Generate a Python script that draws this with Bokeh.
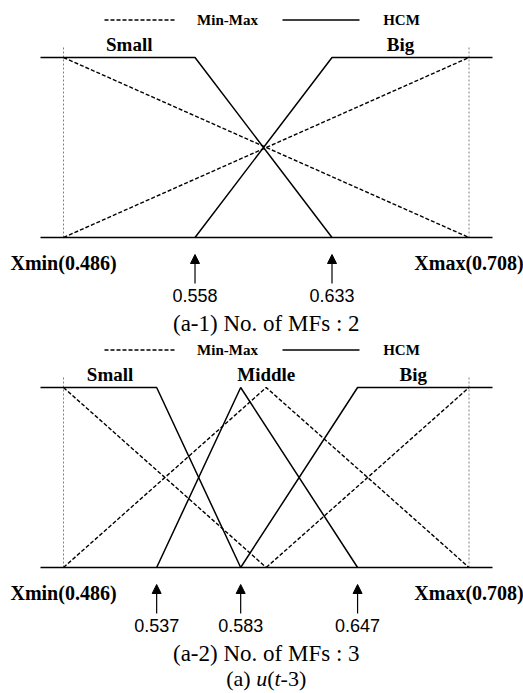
from bokeh.plotting import figure
from bokeh.models import Range1d, ColumnDataSource, Arrow, NormalHead
from bokeh.layouts import column
from bokeh.embed import file_html
from bokeh.resources import INLINE
from bokeh.core.properties import value

# ---------------- data ----------------
X_MIN = 0.486
X_MAX = 0.708

MF2_NAMES = ["Small", "Big"]
HCM2_CENTERS = [0.558, 0.633]
MM2_CENTERS = [0.486, 0.708]

MF3_NAMES = ["Small", "Middle", "Big"]
HCM3_CENTERS = [0.537, 0.583, 0.647]
MM3_CENTERS = [0.486, 0.597, 0.708]

LEGEND_LABELS = ["Min-Max", "HCM"]
CAPTION1 = "(a-1) No. of MFs : 2"
CAPTION2 = "(a-2) No. of MFs : 3"

# ---------------- layout helpers ----------------
W = 523
PXU = 405.5 / (X_MAX - X_MIN)   # screen px per data unit (x)
X0 = X_MIN - 63 / PXU            # left edge of the x range
PYU = 180.0                      # screen px per membership unit (y)
L_END = X0 + 40 / PXU            # baseline ends
R_END = X0 + 492 / PXU

SERIF = value("Liberation Serif")
SANS = value("Liberation Sans")


def sx(px):
    """screen x -> data x"""
    return X0 + px / PXU


def dy(px_below_baseline):
    return -px_below_baseline / PYU


def make_fig(height, top_px, base_px):
    p = figure(width=W, height=height,
               x_range=Range1d(X0, X0 + W / PXU),
               y_range=Range1d(-(height - base_px) / PYU, 1 + top_px / PYU),
               output_backend="svg", toolbar_location=None,
               x_axis_location=None, y_axis_location=None, min_border=0)
    p.grid.visible = False
    p.outline_line_color = None
    p.background_fill_color = "white"
    p.border_fill_color = "white"
    return p


def hcm_mfs(c):
    n = len(c)
    out = []
    for k in range(n):
        if k == 0:
            out.append(([L_END, c[0], c[1]], [1, 1, 0]))
        elif k == n - 1:
            out.append(([c[k - 1], c[k], R_END], [0, 1, 1]))
        else:
            out.append(([c[k - 1], c[k], c[k + 1]], [0, 1, 0]))
    return out


def mm_mfs(c):
    n = len(c)
    out = []
    for k in range(n):
        if k == 0:
            out.append(([c[0], c[1]], [1, 0]))
        elif k == n - 1:
            out.append(([c[k - 1], c[k]], [0, 1]))
        else:
            out.append(([c[k - 1], c[k], c[k + 1]], [0, 1, 0]))
    return out


def panel(height, top_px, base_px, names, hcm_c, mm_c, caption):
    p = make_fig(height, top_px, base_px)
    # legend row
    ly = 1 + 37.5 / PYU
    p.segment(x0=[sx(104)], y0=[ly], x1=[sx(175)], y1=[ly],
              line_color="black", line_width=1.4, line_dash="4 2")
    p.segment(x0=[sx(282)], y0=[ly], x1=[sx(359)], y1=[ly],
              line_color="black", line_width=1.4)
    p.text(x=[sx(227), sx(401)], y=[ly, ly], text=LEGEND_LABELS,
           text_font=SERIF, text_font_style="bold", text_font_size="15px",
           text_align="center", text_baseline="middle", text_color="black")

    # Xmin / Xmax guides
    p.segment(x0=[X_MIN, X_MAX], y0=[0, 0], x1=[X_MIN, X_MAX], y1=[1 + 10 / PYU] * 2,
              line_color="#808080", line_width=1, line_dash="2 2")
    # baseline
    p.segment(x0=[L_END], y0=[0], x1=[R_END], y1=[0], line_color="black", line_width=1.5)

    # Min-Max (dashed)
    for xs, ys in mm_mfs(mm_c):
        p.line(xs, ys, line_color="black", line_width=1.4, line_dash="4 2")
    # HCM (solid)
    for xs, ys in hcm_mfs(hcm_c):
        p.line(xs, ys, line_color="black", line_width=1.5)

    # MF names
    n = len(names)
    name_x = []
    for k in range(n):
        if k == 0:
            name_x.append((X_MIN + hcm_c[0]) / 2)
        elif k == n - 1:
            name_x.append((hcm_c[-1] + X_MAX) / 2)
        else:
            name_x.append(mm_c[k])
    name_y = 1 + 13.5 / PYU
    p.text(x=name_x, y=[name_y] * n, text=names,
           text_font=SERIF, text_font_style="bold", text_font_size="19px",
           text_align="center", text_baseline="middle", text_color="black")

    # Xmin / Xmax labels
    p.text(x=[X_MIN, X_MAX], y=[dy(25)] * 2,
           text=[f"Xmin({X_MIN:.3f})", f"Xmax({X_MAX:.3f})"],
           text_font=SERIF, text_font_style="bold", text_font_size="20px",
           text_align="center", text_baseline="middle", text_color="black")

    # arrows + values
    src = ColumnDataSource(dict(x=hcm_c, y0=[dy(46)] * len(hcm_c), y1=[dy(17)] * len(hcm_c)))
    p.add_layout(Arrow(end=NormalHead(size=9, fill_color="black", line_color="black", line_width=1),
                       x_start="x", y_start="y0", x_end="x", y_end="y1",
                       source=src, line_color="black", line_width=1.2))
    p.text(x=hcm_c, y=[dy(58)] * len(hcm_c), text=[f"{v:.3f}" for v in hcm_c],
           text_font=SANS, text_font_size="18px",
           text_align="center", text_baseline="middle", text_color="black")

    # caption
    p.text(x=[(X_MIN + X_MAX) / 2], y=[dy(86)], text=[caption],
           text_font=SERIF, text_font_size="23px",
           text_align="center", text_baseline="middle", text_color="black")
    return p


p1 = panel(338, 57, 237, MF2_NAMES, HCM2_CENTERS, MM2_CENTERS, CAPTION1)
p2 = panel(355, 49, 229, MF3_NAMES, HCM3_CENTERS, MM3_CENTERS, CAPTION2)

# final caption "(a) u(t-3)" with italic u and t
FS = 22
pieces = [("(a) ", "normal", 1.36), ("u", "italic", 0.5), ("(", "normal", 0.333),
          ("t", "italic", 0.278), ("-3)", "normal", 1.166)]
total = sum(w for _, _, w in pieces) * FS
xc_px = ((X_MIN + X_MAX) / 2 - X0) * PXU
cur = xc_px - total / 2
for txt, style, w in pieces:
    p2.text(x=[sx(cur)], y=[dy(111)], text=[txt],
            text_font=SERIF, text_font_style=style, text_font_size=f"{FS}px",
            text_align="left", text_baseline="middle", text_color="black")
    cur += w * FS

layout = column(p1, p2, spacing=0)
open("out.html", "w").write(file_html(layout, INLINE))
